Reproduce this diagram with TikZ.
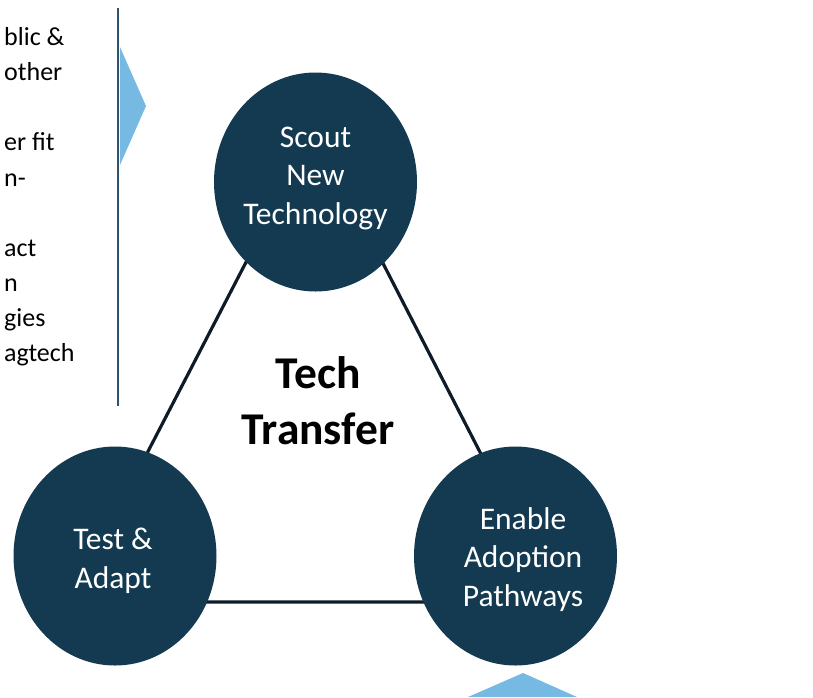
\documentclass[tikz,border=0pt]{standalone}
\usepackage{fontspec}
\setmainfont{Carlito}
\usetikzlibrary{shapes.geometric}
\definecolor{navy}{HTML}{133A50}
\definecolor{edgecol}{HTML}{0E1B28}
\definecolor{skyblue}{HTML}{76BAE4}
\definecolor{rulecol}{HTML}{2E5370}
\tikzset{
  stage/.style={ellipse, fill=navy, minimum width=203pt, minimum height=219pt, inner sep=0pt},
  stagetext/.style={text=white, align=center, inner sep=0pt, font=\fontsize{31.5}{38.5}\selectfont},
  edge/.style={draw=edgecol, line width=3.2pt},
  frag/.style={anchor=base west, inner sep=0pt, font=\fontsize{26}{35}\selectfont, text=black},
  pointer/.style={fill=skyblue, draw=none}
}
\begin{document}
\begin{tikzpicture}[x=1pt,y=-1pt]
\useasboundingbox (0,0) rectangle (813,697);
\clip (0,0) rectangle (813,697);
% left text fragments
\node[frag] (f1) at (4,45) {blic \&};
\node[frag] (f2) at (4,80) {other};
\node[frag] (f3) at (4,150) {er fit};
\node[frag] (f4) at (4,186) {n-};
\node[frag] (f5) at (4,256) {act};
\node[frag] (f6) at (4,291) {n};
\node[frag] (f7) at (4,326) {gies};
\node[frag] (f8) at (4,361) {agtech};
% separator rule
\coordinate (r1) at (118,8);
\coordinate (r2) at (118,406);
\draw[draw=rulecol, line width=1.6pt] (r1) -- (r2);
% light blue pointers
\fill[pointer] (120,47) -- (146,106) -- (120,165) -- cycle;
\fill[pointer] (523,673) -- (577,697) -- (468,697) -- cycle;
% triangle
\coordinate (va) at (314.5,130);
\coordinate (vl) at (70,602);
\coordinate (vr) at (557,602);
\draw[edge] (va) -- (vl) -- (vr) -- cycle;
% circles
\node[stage] (scout) at (315.5,182) {};
\node[stage] (test) at (115,556) {};
\node[stage] (enable) at (515.5,556) {};
\node[stagetext] (scoutt) at ([yshift=4pt]scout.center) {Scout\\New\\Technology};
\node[stagetext] (testt) at ([xshift=-2pt,yshift=-5pt]test.center) {Test \&\\Adapt};
\node[stagetext] (enablet) at ([xshift=7.5pt,yshift=-3.5pt]enable.center) {Enable\\Adoption\\Pathways};
% centre title
\node[align=center, font=\fontsize{45.5}{56}\selectfont\bfseries, inner sep=0pt] (title) at (318,401) {Tech\\Transfer};
\end{tikzpicture}
\end{document}
